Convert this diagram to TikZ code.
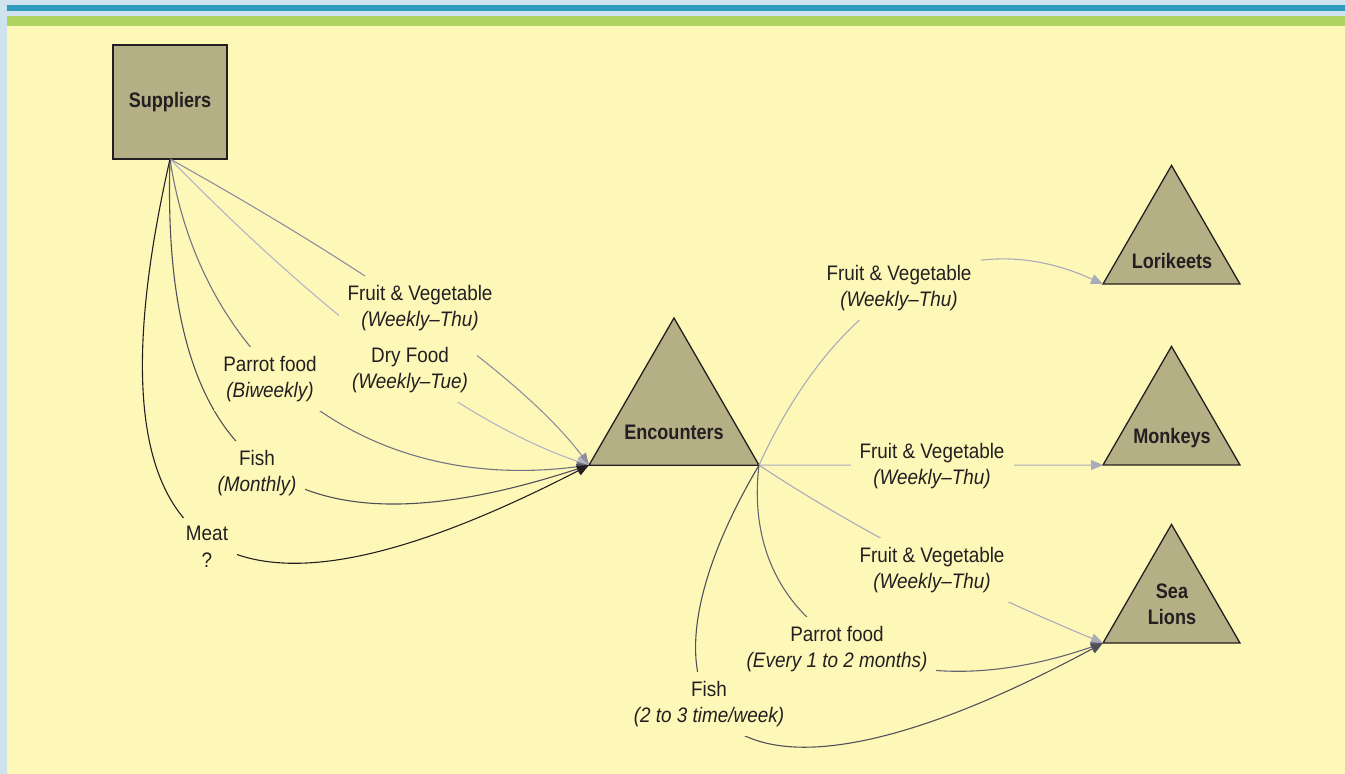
\documentclass[tikz,border=0pt]{standalone}
\usepackage{fontspec}
\setmainfont{Liberation Sans}[FakeStretch=0.9]
\newfontfamily\titlefont{Liberation Sans}[FakeStretch=0.86]
\usetikzlibrary{arrows.meta,shapes.geometric}

\definecolor{frame}{HTML}{CFE3EE}
\definecolor{bandblue}{HTML}{2E9BBE}
\definecolor{bandgreen}{HTML}{AED35E}
\definecolor{paper}{HTML}{FEF8B8}
\definecolor{boxfill}{HTML}{B5AF86}
\definecolor{ink}{HTML}{231F20}
\definecolor{cFV}{HTML}{8E8FA0}
\definecolor{cDry}{HTML}{B3B5C6}
\definecolor{cParrot}{HTML}{737482}
\definecolor{cFish}{HTML}{505058}
\definecolor{cLight}{HTML}{A9ABBB}
\definecolor{cDark}{HTML}{666673}

\tikzset{
  sitebox/.style={draw=ink, fill=boxfill, line width=1.3pt, minimum size=114pt,
    inner sep=0pt, outer sep=0pt},
  sitetri/.style={regular polygon, regular polygon sides=3, draw=ink, fill=boxfill,
    line width=1.3pt, inner sep=0pt, outer sep=0pt},
  title/.style={font=\titlefont\bfseries\fontsize{21}{26}\selectfont, text=ink,
    align=center, inner sep=0pt},
  lbl/.style={fill=paper, inner sep=9pt, align=center, text=ink,
    font=\fontsize{21}{26.5}\selectfont},
  flow/.style={line width=1.1pt, -{Triangle[length=12pt,width=10pt]}},
}

\begin{document}
\begin{tikzpicture}[x=1pt, y=-1pt]
  \useasboundingbox (0,0) rectangle (1345,774);

  % page frame and header bands
  \fill[frame] (0,0) rectangle (1345,774);
  \fill[bandblue] (7,5) rectangle (1345,10.5);
  \fill[bandgreen] (7,15.5) rectangle (1345,26);
  \fill[paper] (7,26) rectangle (1345,774);

  % sites
  \node[sitebox] (sup) at (170,102) {};
  \node[title] (supT) at (170,102) {Suppliers};

  \node[sitetri, minimum size=196.3pt] (enc) at (674,416.1) {};
  \node[title] (encT) at (674,432) {Encounters};

  \node[sitetri, minimum size=158.2pt] (lor) at (1171.5,244.5) {};
  \node[title] (lorT) at (1172,261) {Lorikeets};

  \node[sitetri, minimum size=158.2pt] (mon) at (1171.5,425.5) {};
  \node[title] (monT) at (1172,438) {Monkeys};

  \node[sitetri, minimum size=158.2pt] (sea) at (1171.5,603.5) {};
  \node[title] (seaT) at (1172,604) {Sea\\Lions};

  % deliveries from suppliers to Encounters
  \draw[flow, draw=cFV] (sup.south) .. controls (433,306) and (540,400) .. (enc.corner 2);
  \draw[flow, draw=cDry] (sup.south) .. controls (371,364) and (500,435) .. (enc.corner 2);
  \draw[flow, draw=cParrot] (sup.south) .. controls (200,360) and (360,495) .. (enc.corner 2);
  \draw[flow, draw=cFish] (sup.south) .. controls (160,480) and (300,560) .. (enc.corner 2);
  \draw[flow, draw=ink] (sup.south) .. controls (70,600) and (250,640) .. (enc.corner 2);

  % distribution from Encounters to the exhibits
  \draw[flow, draw=cLight] (enc.corner 3) .. controls (830,310) and (950,215) .. (lor.corner 2);
  \draw[flow, draw=cLight] (enc.corner 3) -- (mon.corner 2);
  \draw[flow, draw=cLight] (enc.corner 3) .. controls (880,545) and (1000,600) .. (sea.corner 2);
  \draw[flow, draw=cDark] (enc.corner 3) .. controls (740,620) and (880,720) .. (sea.corner 2);
  \draw[flow, draw=cFish] (enc.corner 3) .. controls (620,700) and (700,860) .. (sea.corner 2);

  % flow labels
  \node[lbl] (l1) at (420,308) {Fruit \& Vegetable\\\textit{(Weekly–Thu)}};
  \node[lbl] (l2) at (410,370) {Dry Food\\\textit{(Weekly–Tue)}};
  \node[lbl] (l3) at (270,379) {Parrot food\\\textit{(Biweekly)}};
  \node[lbl] (l4) at (257,473) {Fish\\\textit{(Monthly)}};
  \node[lbl] (l5) at (207,547) {Meat\\?};

  \node[lbl] (r1) at (899,288) {Fruit \& Vegetable\\\textit{(Weekly–Thu)}};
  \node[lbl] (r2) at (932,466) {Fruit \& Vegetable\\\textit{(Weekly–Thu)}};
  \node[lbl] (r3) at (932,570) {Fruit \& Vegetable\\\textit{(Weekly–Thu)}};
  \node[lbl] (r4) at (837,649) {Parrot food\\\textit{(Every 1 to 2 months)}};
  \node[lbl] (r5) at (709,704) {Fish\\\textit{(2 to 3 time/week)}};
\end{tikzpicture}
\end{document}
